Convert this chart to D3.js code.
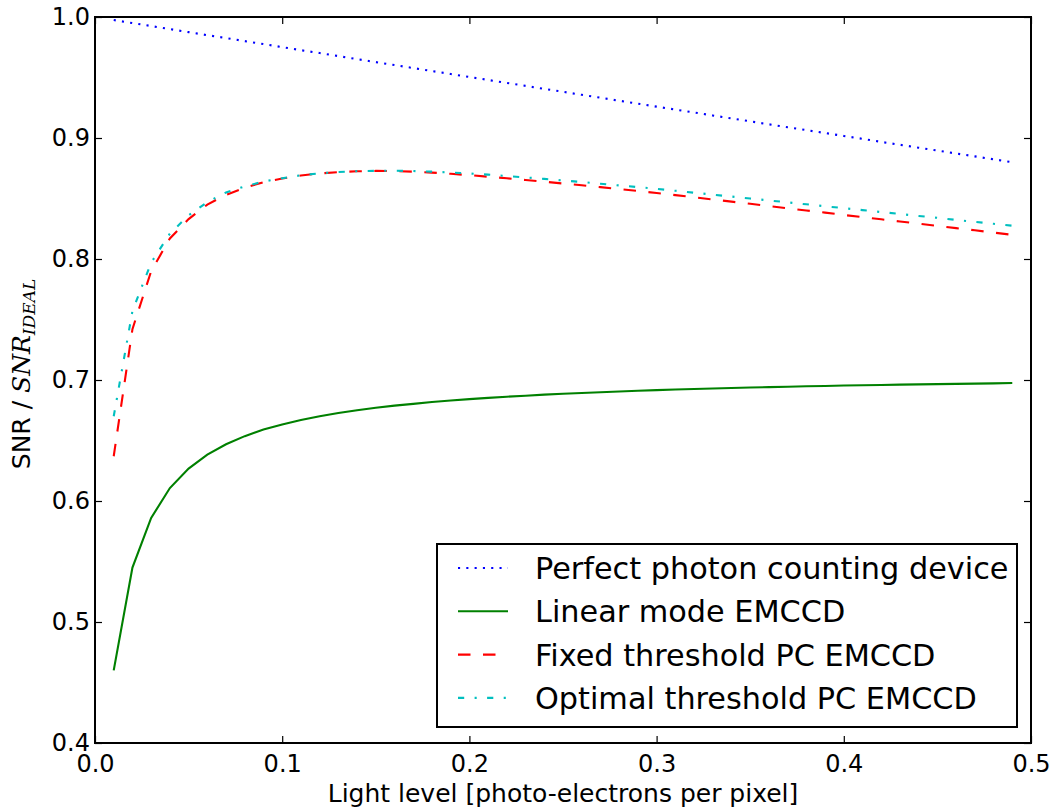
<!DOCTYPE html>
<html><head><meta charset="utf-8">
<script src="https://cdn.jsdelivr.net/npm/d3@7"></script>
<style>body{margin:0;background:#fff}svg{display:block}</style>
</head><body>
<svg id="c" width="1056" height="810"></svg>
<script>
const lightLevel = [0.01,0.02,0.03,0.04,0.05,0.06,0.07,0.08,0.09,0.10,0.11,0.12,0.13,0.14,0.15,0.16,0.17,0.18,0.19,0.20,0.21,0.22,0.23,0.24,0.25,0.26,0.27,0.28,0.29,0.30,0.31,0.32,0.33,0.34,0.35,0.36,0.37,0.38,0.39,0.40,0.41,0.42,0.43,0.44,0.45,0.46,0.47,0.48,0.49];
const perfectPC = [0.9975,0.9950,0.9925,0.9900,0.9875,0.9850,0.9826,0.9801,0.9776,0.9751,0.9726,0.9702,0.9677,0.9652,0.9627,0.9603,0.9578,0.9553,0.9529,0.9504,0.9480,0.9455,0.9431,0.9406,0.9382,0.9357,0.9333,0.9308,0.9284,0.9259,0.9235,0.9211,0.9186,0.9162,0.9138,0.9113,0.9089,0.9065,0.9041,0.9017,0.8993,0.8968,0.8944,0.8920,0.8896,0.8872,0.8848,0.8824,0.8800];
const linearEM = [0.460,0.545,0.586,0.6107,0.6268,0.6383,0.6469,0.6536,0.6590,0.6633,0.6670,0.6701,0.6727,0.6750,0.6770,0.6788,0.6803,0.6818,0.6830,0.6842,0.6852,0.6862,0.6870,0.6879,0.6886,0.6893,0.6899,0.6905,0.6911,0.6916,0.6921,0.6926,0.6930,0.6934,0.6938,0.6941,0.6944,0.6948,0.6951,0.6954,0.6957,0.6959,0.6962,0.6964,0.6966,0.6968,0.6970,0.6972,0.6975];
const fixedPC = [0.637,0.742,0.790,0.817,0.833,0.845,0.853,0.859,0.8635,0.8665,0.869,0.8707,0.8718,0.8725,0.8728,0.8727,0.8722,0.8714,0.8704,0.8693,0.8680,0.8667,0.8653,0.8639,0.8624,0.8609,0.8594,0.8578,0.8562,0.8546,0.8528,0.8510,0.8492,0.8474,0.8456,0.8437,0.8419,0.8401,0.8383,0.8364,0.8346,0.8328,0.8310,0.8292,0.8273,0.8255,0.8237,0.8218,0.8200];
const optimalPC = [0.670,0.757,0.797,0.821,0.836,0.847,0.855,0.860,0.8640,0.8668,0.8692,0.8708,0.8719,0.8726,0.8729,0.8729,0.8727,0.8722,0.8715,0.8707,0.8697,0.8686,0.8674,0.8662,0.8649,0.8636,0.8622,0.8608,0.8594,0.8580,0.8564,0.8548,0.8532,0.8516,0.8500,0.8484,0.8468,0.8452,0.8436,0.8420,0.8404,0.8388,0.8372,0.8356,0.8340,0.8323,0.8307,0.8291,0.8275];
const seriesNames = ["Perfect photon counting device","Linear mode EMCCD","Fixed threshold PC EMCCD","Optimal threshold PC EMCCD"];
const xTicks = [0.0,0.1,0.2,0.3,0.4,0.5];
const yTicks = [0.4,0.5,0.6,0.7,0.8,0.9,1.0];

const svg = d3.select("#c");
const L=95,R=1031,T=17,B=743;
const x = d3.scaleLinear().domain([0,0.5]).range([L,R]);
const y = d3.scaleLinear().domain([0.4,1.0]).range([B,T]);
const font = "'DejaVu Sans', sans-serif";

const series = [
  {name:seriesNames[0], vals:perfectPC, color:"#0000ff", dash:"2.1,6.2"},
  {name:seriesNames[1], vals:linearEM, color:"#008000", dash:null},
  {name:seriesNames[2], vals:fixedPC, color:"#ff0000", dash:"12.5,12.5"},
  {name:seriesNames[3], vals:optimalPC, color:"#00bfbf", dash:"6.2,10.4,2.1,10.4"}
];
const line = d3.line().x((d,i)=>x(lightLevel[i])).y(d=>y(d));
series.forEach(s=>{
  svg.append("path").attr("d",line(s.vals)).attr("fill","none")
    .attr("stroke",s.color).attr("stroke-width",2.1)
    .attr("stroke-dasharray",s.dash);
});

// axes with inward ticks
const gB = svg.append("g").attr("transform",`translate(0,${B})`)
  .call(d3.axisBottom(x).tickValues(xTicks).tickFormat(d3.format(".1f")).tickSize(-7).tickPadding(12));
const gT = svg.append("g").attr("transform",`translate(0,${T})`)
  .call(d3.axisTop(x).tickValues(xTicks).tickFormat("").tickSize(-7));
const gL = svg.append("g").attr("transform",`translate(${L},0)`)
  .call(d3.axisLeft(y).tickValues(yTicks).tickFormat(d3.format(".1f")).tickSize(-7).tickPadding(5));
const gR = svg.append("g").attr("transform",`translate(${R},0)`)
  .call(d3.axisRight(y).tickValues(yTicks).tickFormat("").tickSize(-7));
[gB,gT,gL,gR].forEach(g=>{
  g.select(".domain").remove();
  g.selectAll(".tick line").attr("stroke","#000").attr("stroke-width",1.2);
  g.selectAll("text").attr("font-family",font).attr("font-size",24).attr("fill","#000");
});
gB.selectAll("text").attr("dy","0.71em");
svg.append("rect").attr("x",L).attr("y",T).attr("width",R-L).attr("height",B-T)
  .attr("fill","none").attr("stroke","#000").attr("stroke-width",2);

// axis labels
svg.append("text").attr("x",(L+R)/2).attr("y",802).attr("text-anchor","middle")
  .attr("font-family",font).attr("font-size",25).text("Light level [photo-electrons per pixel]");
const yl = svg.append("text").attr("transform",`translate(30,374) rotate(-90)`)
  .attr("text-anchor","middle").attr("font-family",font).attr("font-size",25);
yl.append("tspan").text("SNR / ");
yl.append("tspan").attr("font-family","'DejaVu Serif', serif").attr("font-style","italic").text("SNR");
yl.append("tspan").attr("font-family","'DejaVu Serif', serif").attr("font-style","italic")
  .attr("font-size",17).attr("dy",5).text("IDEAL");

// legend
const lg = svg.append("g");
lg.append("rect").attr("x",437).attr("y",544).attr("width",580).attr("height",183)
  .attr("fill","#fff").attr("stroke","#000").attr("stroke-width",2);
series.forEach((s,i)=>{
  const cy = 568 + i*43.3;
  lg.append("line").attr("x1",458).attr("x2",508).attr("y1",cy).attr("y2",cy)
    .attr("stroke",s.color).attr("stroke-width",2.1).attr("stroke-dasharray",s.dash);
  lg.append("text").attr("x",535).attr("y",cy).attr("dy","0.36em")
    .attr("font-family",font).attr("font-size",30.3).text(s.name);
});
</script>
</body></html>
